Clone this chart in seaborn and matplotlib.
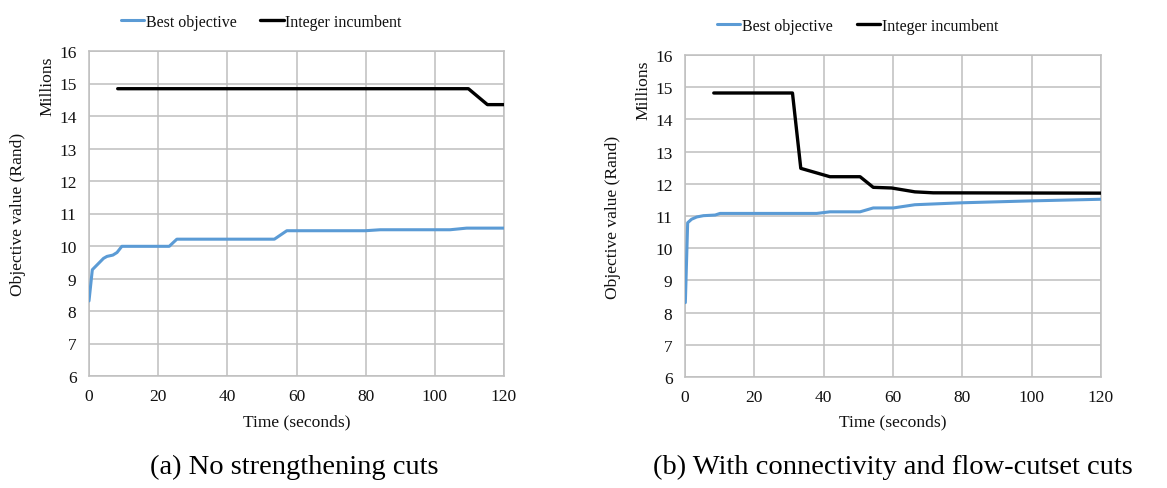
import numpy as np
import pandas as pd
import matplotlib
matplotlib.use("Agg")
import matplotlib.pyplot as plt
import seaborn as sns

# ---- data ----
a_best_t = [0, 0.96, 4.2, 5.2, 6.9, 8.1, 9.5, 23.2, 25.4, 53.6, 57.2, 79.9, 84.2, 104.4, 109.2, 120]
a_best_v = [8.31, 9.27, 9.62, 9.68, 9.72, 9.80, 9.99, 9.99, 10.21, 10.21, 10.47, 10.47, 10.50, 10.50, 10.55, 10.55]
a_inc_t = [8.3, 109.7, 115.2, 120]
a_inc_v = [14.84, 14.84, 14.35, 14.35]

b_best_t = [0.1, 0.77, 1.9, 3.4, 5.3, 8.7, 10.1, 38, 41.8, 50.5, 54.3, 60.1, 66.3, 79.8, 100, 120]
b_best_v = [8.31, 10.79, 10.90, 10.97, 11.01, 11.03, 11.08, 11.08, 11.13, 11.13, 11.25, 11.25, 11.35, 11.41, 11.47, 11.52]
b_inc_t = [8.3, 31, 33.4, 41.8, 50.5, 54.3, 59.6, 66.3, 71.6, 120]
b_inc_v = [14.82, 14.82, 12.48, 12.22, 12.22, 11.89, 11.87, 11.75, 11.72, 11.71]

series_names = ["Best objective", "Integer incumbent"]
captions = ["(a) No strengthening cuts", "(b) With connectivity and flow-cutset cuts"]
x_ticks = [0, 20, 40, 60, 80, 100, 120]
y_ticks = [6, 7, 8, 9, 10, 11, 12, 13, 14, 15, 16]

sns.set_theme(style="white")
plt.rcParams['font.family'] = ['Liberation Serif', 'DejaVu Serif']
plt.rcParams['text.color'] = '#111111'

palette = {"Best objective": "#5B9BD5", "Integer incumbent": "#000000"}
widths = {"Best objective": 2.2, "Integer incumbent": 2.4}

fig = plt.figure(figsize=(11.67, 4.89), dpi=100)
W, H = 1167, 489
boxes = [(89, 52, 504, 377), (685, 56, 1101, 378)]
datasets = [((a_best_t, a_best_v), (a_inc_t, a_inc_v)),
            ((b_best_t, b_best_v), (b_inc_t, b_inc_v))]
grid_c = "#bfbfbf"

for i, (box, data) in enumerate(zip(boxes, datasets)):
    x0, y0, x1, y1 = box
    ax = fig.add_axes([x0 / W, 1 - y1 / H, (x1 - x0) / W, (y1 - y0) / H])
    frames = []
    for name, (t, v) in zip(series_names, data):
        frames.append(pd.DataFrame({"t": t, "v": v, "series": name}))
    df = pd.concat(frames, ignore_index=True)
    for name in series_names:
        sub = df[df.series == name]
        sns.lineplot(data=sub, x="t", y="v", ax=ax, color=palette[name],
                     linewidth=widths[name], estimator=None, sort=False,
                     label=name, legend=False, zorder=3)
    ax.set_xlim(0, 120)
    ax.set_ylim(6, 16)
    ax.set_xticks(x_ticks)
    ax.set_yticks(y_ticks)
    ax.grid(True, color=grid_c, linewidth=1.1)
    for s in ax.spines.values():
        s.set_color(grid_c)
        s.set_linewidth(1.1)
    ax.tick_params(axis='both', length=0, labelsize=12.5, colors="#111111")
    ax.tick_params(axis='y', pad=9)
    ax.tick_params(axis='x', pad=8.5)
    ax.set_xlabel("")
    ax.set_ylabel("")
    ax.text(0.5, (y1 - 422) / (y1 - y0), "Time (seconds)", transform=ax.transAxes,
            ha='center', va='center', fontsize=12.6)
    ax.text((18 + (0 if i == 0 else 595) - x0) / (x1 - x0), 0.5, "Objective value (Rand)",
            transform=ax.transAxes, rotation=90, ha='center', va='center', fontsize=12.6)
    ax.text(-0.10, 0.895, "Millions", transform=ax.transAxes, rotation=90,
            ha='center', va='center', fontsize=12.6)
    leg_y = (y1 - (23 if i == 0 else 27)) / (y1 - y0)
    ax.legend(loc='center', bbox_to_anchor=(0.415, leg_y),
              ncol=2, frameon=False, fontsize=11.5, handlelength=1.45,
              handletextpad=0.12, columnspacing=1.5)
    fig.text(((x0 + x1) / 2 - (2 if i == 0 else 0)) / W, 1 - 467 / H, captions[i],
             ha='center', va='center', fontsize=20.5, color='#000000',
             fontfamily=['Liberation Serif'])

fig.savefig("out.png", dpi=100)
